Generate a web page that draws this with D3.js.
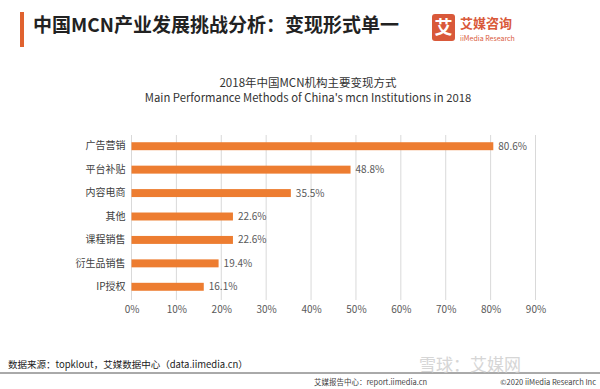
<!DOCTYPE html>
<html><head><meta charset="utf-8">
<script src="https://cdn.jsdelivr.net/npm/d3@7/dist/d3.min.js"></script>
<style>body{margin:0;background:#fff}svg{display:block}text{font-family:"Noto Sans CJK SC","Noto Sans",sans-serif}</style>
</head><body>
<script>
const categories = ["广告营销","平台补贴","内容电商","其他","课程销售","衍生品销售","IP授权"];
const values = [80.6,48.8,35.5,22.6,22.6,19.4,16.1];
const ticks = [0,10,20,30,40,50,60,70,80,90];

const W=600,H=389;
const svg=d3.select("body").append("svg").attr("width",W).attr("height",H);

// header
svg.append("rect").attr("x",20).attr("y",12).attr("width",4).attr("height",35).attr("fill","#E0622F");
svg.append("text").attr("x",33).attr("y",32).attr("font-size",19).attr("font-weight","bold").attr("fill","#222").text("中国MCN产业发展挑战分析：变现形式单一");
// logo
svg.append("rect").attr("x",432).attr("y",14).attr("width",23).attr("height",27).attr("rx",3).attr("fill","#D9593A");
svg.append("text").attr("x",443.5).attr("y",34).attr("text-anchor","middle").attr("font-size",18).attr("font-weight","bold").attr("fill","#fff").text("艾");
svg.append("text").attr("x",460).attr("y",28).attr("font-size",13).attr("font-weight","bold").attr("fill","#D9593A").text("艾媒咨询");
svg.append("text").attr("x",460).attr("y",40.5).attr("font-size",7).attr("fill","#D9593A").text("iiMedia Research");

// chart title
svg.append("text").attr("x",308).attr("y",87).attr("text-anchor","middle").attr("font-size",11.5).attr("fill","#333").text("2018年中国MCN机构主要变现方式");
svg.append("text").attr("x",308).attr("y",102).attr("text-anchor","middle").attr("font-size",11.3).attr("fill","#333").text("Main Performance Methods of China's mcn Institutions in 2018");

const x=d3.scaleLinear().domain([0,90]).range([131.5,535.5]);
const y=d3.scaleBand().domain(categories).range([134.5,298.5]).paddingInner(0.66).paddingOuter(0.33);

// grid
svg.append("g").selectAll("line").data(ticks).join("line")
  .attr("x1",d=>x(d)).attr("x2",d=>x(d)).attr("y1",135).attr("y2",300)
  .attr("stroke","#d9d9d9").attr("stroke-width",1);

// axis labels
const xa=svg.append("g").attr("transform","translate(0,300)")
  .call(d3.axisBottom(x).tickValues(ticks).tickFormat(d=>d+"%").tickSize(0).tickPadding(6));
xa.select(".domain").remove();
xa.selectAll("text").attr("font-size",10).attr("fill","#595959").style("font-family","'Noto Sans CJK SC','Noto Sans',sans-serif");

const ya=svg.append("g").attr("transform","translate(131.5,0)")
  .call(d3.axisLeft(y).tickSize(0).tickPadding(6));
ya.select(".domain").remove();
ya.selectAll("text").attr("font-size",10).attr("fill","#404040").style("font-family","'Noto Sans CJK SC','Noto Sans',sans-serif");

// bars
svg.append("g").selectAll("rect").data(values).join("rect")
  .attr("x",x(0)).attr("y",(d,i)=>y(categories[i]))
  .attr("width",d=>x(d)-x(0)).attr("height",y.bandwidth())
  .attr("fill","#ED7D31");
svg.append("g").selectAll("text").data(values).join("text")
  .attr("x",d=>x(d)+5).attr("y",(d,i)=>y(categories[i])+y.bandwidth()/2)
  .attr("dy","0.35em").attr("font-size",10).attr("fill","#595959")
  .text(d=>d.toFixed(1)+"%");

// footer
svg.append("text").attr("x",8).attr("y",368).attr("font-size",9.5).attr("fill","#222").text("数据来源：topklout，艾媒数据中心（data.iimedia.cn）");
svg.append("line").attr("x1",0).attr("x2",W).attr("y1",373).attr("y2",373).attr("stroke","#555").attr("stroke-width",1);
svg.append("text").attr("x",470).attr("y",371).attr("text-anchor","middle").attr("font-size",17).attr("fill","#ccc").attr("opacity",0.8).text("雪球：艾媒网");
svg.append("text").attr("x",314).attr("y",385).attr("font-size",7.5).attr("fill","#444").text("艾媒报告中心：report.iimedia.cn");
svg.append("text").attr("x",596).attr("y",385).attr("text-anchor","end").attr("font-size",7.5).attr("fill","#444").text("©2020  iiMedia Research Inc");
</script>
</body></html>
